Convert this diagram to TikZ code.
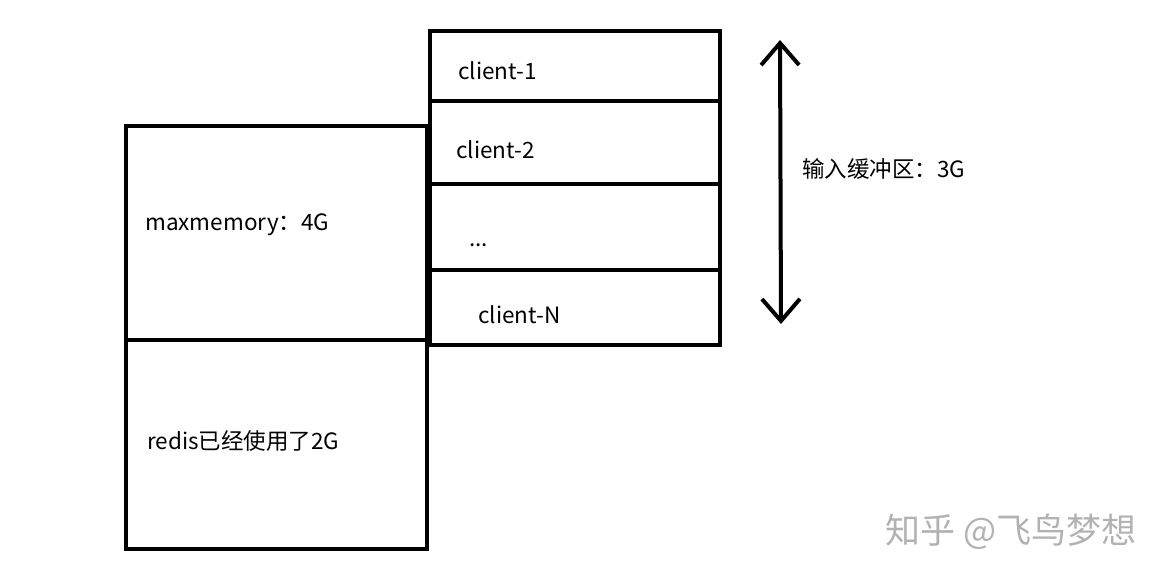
\documentclass[tikz,border=0pt]{standalone}
\usepackage{fontspec}
\setmainfont{Noto Sans CJK SC}
\usetikzlibrary{arrows.meta}
\begin{document}
\begin{tikzpicture}[x=1pt,y=-1pt,
  cell/.style={draw,line width=4pt,inner sep=0pt,minimum width=#1},
  lbl/.style={anchor=west,inner sep=0pt,font=\fontsize{22.5}{26}\selectfont},
  wm/.style={anchor=west,inner sep=0pt,text=black!30,font=\fontsize{35}{40}\selectfont}]
\useasboundingbox (0,0) rectangle (1167,581);
% left column
\node[cell=301pt,minimum height=214pt] (mm) at (276.5,233) {};
\node[cell=301pt,minimum height=209pt] (used) at (276.5,444.5) {};
% right column
\node[cell=290pt,minimum height=70pt] (c1) at (575,66) {};
\node[cell=290pt,minimum height=83pt] (c2) at (575,142.5) {};
\node[cell=290pt,minimum height=86pt] (c3) at (575,227) {};
\node[cell=290pt,minimum height=75pt] (c4) at (575,307.5) {};
% labels
\node[lbl] (tmm) at (145,225) {maxmemory：4G};
\node[lbl] (tused) at (147,441) {redis已经使用了2G};
\node[lbl] (t1) at (458,71) {client-1};
\node[lbl] (t2) at (456,150) {client-2};
\node[lbl] (t3) at (469,245) {...};
\node[lbl] (t4) at (478,315) {client-N};
\node[lbl] (tin) at (802,169) {输入缓冲区：3G};
% arrow
\coordinate (atop) at (780,40);
\coordinate (abot) at (781,324);
\draw[line width=4pt,{Straight Barb[length=22pt,width=38pt]}-{Straight Barb[length=22pt,width=38pt]}] (atop) -- (abot);
% watermark
\node[wm] (w) at (885,532) {知乎 @飞鸟梦想};
\end{tikzpicture}
\end{document}
